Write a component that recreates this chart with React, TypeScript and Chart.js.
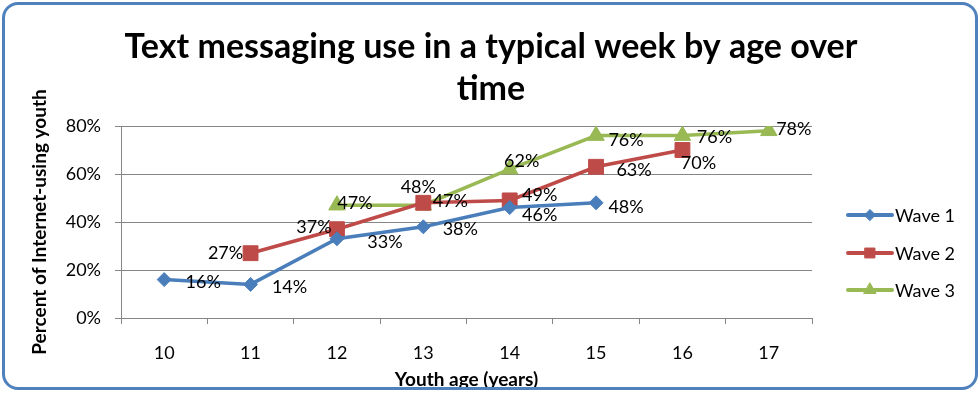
import React, { useEffect, useRef } from "react";
import { Chart, registerables } from "chart.js";
import { drawPoint } from "chart.js/helpers";

Chart.register(...registerables);

const ages = ["10", "11", "12", "13", "14", "15", "16", "17"];
const wave1 = [16, 14, 33, 38, 46, 48, null, null];
const wave2 = [null, 27, 37, 48, 49, 63, 70, null];
const wave3 = [null, null, 47, 47, 62, 76, 76, 78];
const seriesNames = ["Wave 1", "Wave 2", "Wave 3"];
const yTickValues = [0, 20, 40, 60, 80];
const titleLines = ["Text messaging use in a typical week by age over", "time"];
const yAxisTitle = "Percent of Internet-using youth";
const xAxisTitle = "Youth age (years)";

// label placement (pixel offsets from each point), kept apart from the data
const labelOffsets = [
  [[39, 3], [39, 3], [48, 3], [37, 2], [30, 8], [30, 4], null, null],
  [null, [-25, 0], [-23, -2], [-5, -16], [30, -5], [38, 3], [16, 13], null],
  [null, null, [18, -2], [27, -4], [12, -8], [30, 5], [32, 2], [25, -2]],
];

const FONT = "Lato, 'Open Sans', sans-serif";
const colors = ["#4A7EBB", "#BE4B48", "#98B954"];
const styles = ["rectRot", "rect", "triangle"];
const radii = [7, 10.5, 9.5];
const legendRadii = [5.5, 7, 7];

const titlePlugin = {
  id: "twoLineTitle",
  afterDraw(chart: any) {
    const ctx = chart.ctx;
    ctx.save();
    ctx.font = `bold 34px ${FONT}`;
    ctx.fillStyle = "#000";
    ctx.textAlign = "center";
    ctx.textBaseline = "middle";
    const ys = [47, 89];
    titleLines.forEach((t, i) => ctx.fillText(t, 491, ys[i]));
    ctx.restore();
  },
};

const dataLabelPlugin = {
  id: "dataLabels",
  afterDatasetsDraw(chart: any) {
    const ctx = chart.ctx;
    ctx.save();
    ctx.font = `18px ${FONT}`;
    ctx.fillStyle = "#000";
    ctx.textAlign = "center";
    ctx.textBaseline = "middle";
    chart.data.datasets.forEach((ds: any, i: number) => {
      const meta = chart.getDatasetMeta(i);
      meta.data.forEach((el: any, j: number) => {
        const v = ds.data[j];
        if (v === null || v === undefined) return;
        const off = labelOffsets[i][j] || [30, 0];
        ctx.fillText(`${v}%`, el.x + off[0], el.y + off[1]);
      });
    });
    ctx.restore();
  },
};

const legendPlugin = {
  id: "customLegend",
  afterDraw(chart: any) {
    const ctx = chart.ctx;
    const x0 = 848;
    const x1 = 892;
    const ys = [215, 253, 290];
    ctx.save();
    chart.data.datasets.forEach((ds: any, i: number) => {
      const y = ys[i];
      ctx.strokeStyle = ds.borderColor;
      ctx.lineWidth = 4;
      ctx.lineCap = "round";
      ctx.beginPath();
      ctx.moveTo(x0, y);
      ctx.lineTo(x1, y);
      ctx.stroke();
      ctx.fillStyle = ds.backgroundColor;
      ctx.strokeStyle = ds.borderColor;
      ctx.lineWidth = 1;
      drawPoint(ctx, { pointStyle: ds.pointStyle, rotation: 0, borderWidth: 1, radius: legendRadii[i] } as any, (x0 + x1) / 2, y);
      ctx.fillStyle = "#000";
      ctx.font = `18px ${FONT}`;
      ctx.textAlign = "left";
      ctx.textBaseline = "middle";
      ctx.fillText(ds.label, x1 + 3, y + 1);
    });
    ctx.restore();
  },
};

export default function App() {
  const ref = useRef<HTMLCanvasElement | null>(null);
  useEffect(() => {
    if (!ref.current) return;
    const series = [wave1, wave2, wave3];
    const chart = new Chart(ref.current, {
      type: "line",
      data: {
        labels: ages,
        datasets: series.map((d, i) => ({
          label: seriesNames[i],
          data: d,
          borderColor: colors[i],
          backgroundColor: colors[i],
          borderWidth: 3.5,
          pointStyle: styles[i] as any,
          pointRadius: radii[i],
          pointBorderWidth: 1,
          tension: 0,
          spanGaps: false,
        })),
      },
      options: {
        animation: false,
        responsive: false,
        devicePixelRatio: 1,
        layout: { padding: { left: 0, right: 168, top: 126, bottom: 0 } },
        plugins: {
          legend: { display: false },
          tooltip: { enabled: false },
          title: { display: false },
        },
        scales: {
          x: {
            type: "category",
            offset: true,
            afterFit: (s: any) => {
              s.height = 75;
            },
            grid: {
              offset: true,
              drawOnChartArea: false,
              drawTicks: true,
              tickLength: 6,
              color: "#868686",
            },
            border: { display: true, color: "#868686", width: 1 },
            ticks: { color: "#000", font: { family: FONT, size: 18 }, padding: 18, maxRotation: 0 },
            title: {
              display: true,
              text: xAxisTitle,
              color: "#000",
              font: { family: FONT, size: 19, weight: "bold", lineHeight: 1.2 },
              padding: { top: 0, bottom: 1.5 },
            },
          },
          y: {
            min: 0,
            max: 80,
            afterFit: (s: any) => {
              s.width = 121;
            },
            afterBuildTicks: (s: any) => {
              s.ticks = yTickValues.map((v) => ({ value: v }));
            },
            grid: { color: "#868686", lineWidth: 1, tickLength: 6 },
            border: { display: true, color: "#868686", width: 1 },
            ticks: {
              color: "#000",
              font: { family: FONT, size: 18 },
              padding: 14,
              callback: (v: any) => `${v}%`,
            },
            title: {
              display: true,
              text: yAxisTitle,
              color: "#000",
              font: { family: FONT, size: 19, weight: "bold", lineHeight: 1.2 },
              padding: { top: 28.5, bottom: 0 },
            },
          },
        },
      },
      plugins: [dataLabelPlugin, legendPlugin, titlePlugin],
    } as any);
    return () => chart.destroy();
  }, []);

  return (
    <div style={{ position: "fixed", left: 0, top: 0, width: 980, height: 393, background: "#fff" }}>
      <canvas ref={ref} width={980} height={393} style={{ display: "block", width: 980, height: 393 }} />
      <div
        style={{
          position: "absolute",
          left: 2,
          top: 2,
          width: 976,
          height: 388,
          boxSizing: "border-box",
          border: "3px solid #4F81BD",
          borderRadius: 16,
          pointerEvents: "none",
        }}
      />
    </div>
  );
}
